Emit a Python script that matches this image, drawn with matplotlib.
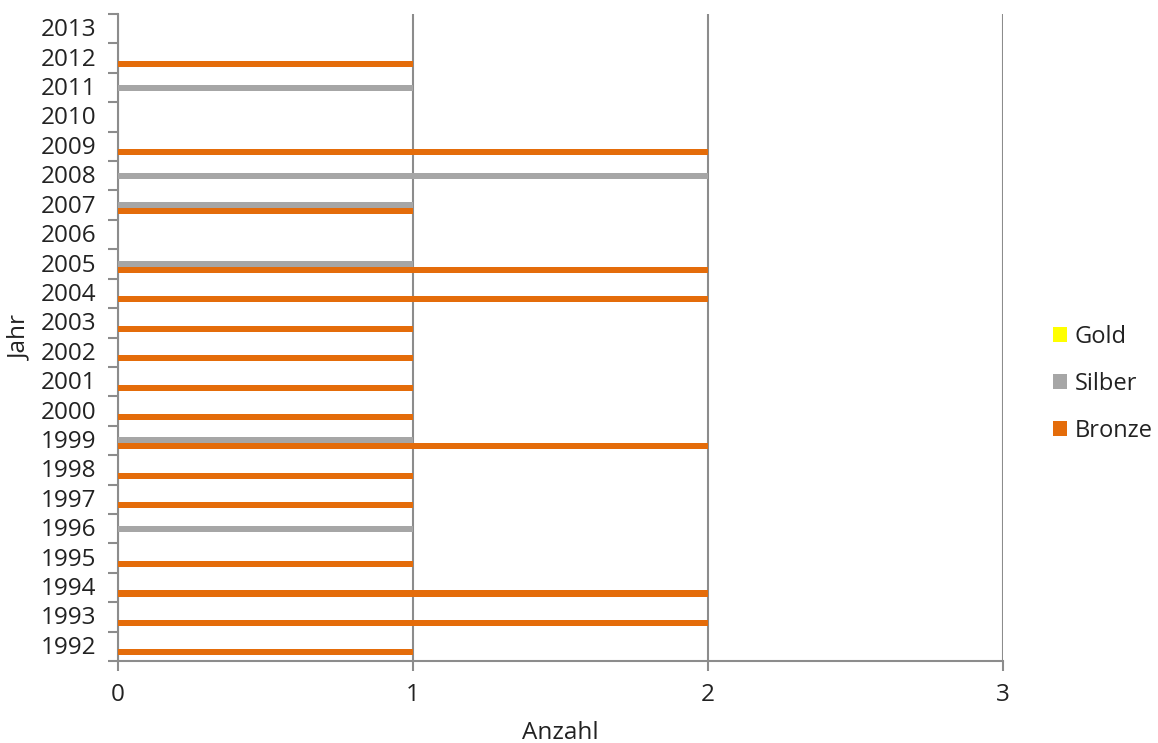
import matplotlib
matplotlib.use("Agg")
import matplotlib.pyplot as plt
from matplotlib.patches import Patch
import numpy as np

plt.rcParams['font.family'] = ['Open Sans', 'DejaVu Sans']

years = [1992, 1993, 1994, 1995, 1996, 1997, 1998, 1999, 2000, 2001, 2002,
         2003, 2004, 2005, 2006, 2007, 2008, 2009, 2010, 2011, 2012, 2013]
gold = [0, 0, 0, 0, 0, 0, 0, 0, 0, 0, 0, 0, 0, 0, 0, 0, 0, 0, 0, 0, 0, 0]
silber = [0, 0, 0, 0, 1, 0, 0, 1, 0, 0, 0, 0, 0, 1, 0, 1, 2, 0, 0, 1, 0, 0]
bronze = [1, 2, 2, 1, 0, 1, 1, 2, 1, 1, 1, 1, 2, 2, 0, 1, 0, 2, 0, 0, 1, 0]
series_names = ["Gold", "Silber", "Bronze"]
colors = ["#FFFF00", "#A6A6A6", "#E46C0A"]
x_ticks = [0, 1, 2, 3]

FS = 17.5
TXT = "#222222"

fig = plt.figure(figsize=(11.58, 7.43), dpi=100)
ax = fig.add_axes([118 / 1158, 1 - 661 / 743, (1003 - 118) / 1158, (661 - 14) / 743])

pos = np.arange(len(years))
h = 0.205
for vals, off, col in zip([gold, silber, bronze], [h, 0, -h], colors):
    ax.barh(pos + off, vals, height=h, color=col, zorder=3)

ax.set_xlim(0, 3)
ax.set_ylim(-0.5, len(years) - 0.5)
ax.set_xticks(x_ticks)
ax.set_xticklabels([str(t) for t in x_ticks], fontsize=FS, color=TXT)
ax.set_yticks(pos + 0.05)
ax.set_yticklabels([str(y) for y in years], fontsize=FS, color=TXT)
ax.set_yticks(np.arange(len(years) + 1) - 0.5, minor=True)
ax.tick_params(axis='y', which='major', length=0, pad=15.5)
ax.tick_params(axis='y', which='minor', length=7, width=1.5, color="#8C8C8C")
ax.tick_params(axis='x', which='major', length=7, width=1.5, color="#8C8C8C", pad=9)

ax.grid(axis='x', color="#8C8C8C", linewidth=1.5, zorder=1)
for s in ["top", "right"]:
    ax.spines[s].set_visible(False)
for s in ["left", "bottom"]:
    ax.spines[s].set_color("#8C8C8C")
    ax.spines[s].set_linewidth(1.5)

ax.set_xlabel("Anzahl", fontsize=FS, color=TXT, va='center')
ax.xaxis.set_label_coords(0.5, -(733 - 661) / 647)
ax.set_ylabel("Jahr", fontsize=FS, color=TXT, va='center', ha='center')
ax.yaxis.set_label_coords(-(118 - 20) / 885, 0.5 - (338 - 337.5) / 647)

handles = [Patch(facecolor=c, edgecolor='none') for c in colors]
fig.legend(handles, series_names, loc='center left',
           bbox_to_anchor=(1032 / 1158, 1 - 384 / 743), frameon=False,
           fontsize=17, handlelength=0.6, handleheight=0.6,
           handletextpad=0.3, labelspacing=0.98, labelcolor=TXT)

fig.savefig("out.png", dpi=100)
